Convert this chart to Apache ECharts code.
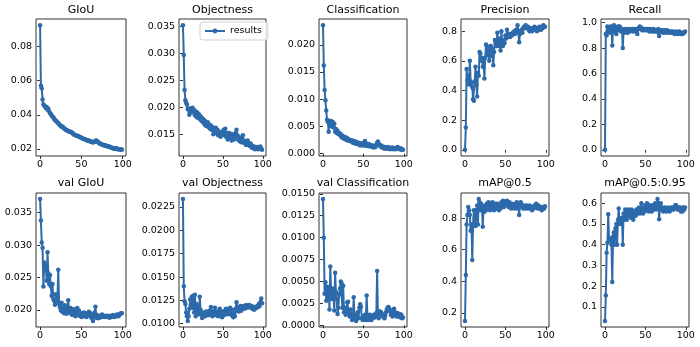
<!DOCTYPE html>
<html><head><meta charset="utf-8">
<script src="https://cdn.jsdelivr.net/npm/echarts@6/dist/echarts.min.js"></script>
<style>html,body{margin:0;padding:0;background:#fff}#c{width:700px;height:347px}</style>
</head><body><div id="c"></div>
<script>
const titles = ['GIoU','Objectness','Classification','Precision','Recall','val GIoU','val Objectness','val Classification','mAP@0.5','mAP@0.5:0.95'];
const xTicks = ['0','50','100'];

const giou = [0.0925,0.0570,0.0555,0.0490,0.0460,0.0455,0.0450,0.0440,0.0445,0.0430,
0.0435,0.0420,0.0410,0.0405,0.0395,0.0390,0.0385,0.0375,0.0370,0.0365,
0.0360,0.0355,0.0350,0.0345,0.0340,0.0335,0.0330,0.0332,0.0325,0.0320,
0.0318,0.0312,0.0310,0.0308,0.0305,0.0302,0.0300,0.0300,0.0298,0.0292,
0.0290,0.0285,0.0282,0.0280,0.0278,0.0275,0.0276,0.0272,0.0270,0.0268,
0.0265,0.0262,0.0260,0.0258,0.0256,0.0255,0.0252,0.0250,0.0251,0.0248,
0.0245,0.0244,0.0243,0.0240,0.0238,0.0240,0.0242,0.0248,0.0250,0.0245,
0.0240,0.0236,0.0232,0.0230,0.0228,0.0226,0.0224,0.0222,0.0220,0.0222,
0.0218,0.0216,0.0214,0.0215,0.0212,0.0210,0.0208,0.0206,0.0205,0.0202,
0.0200,0.0203,0.0205,0.0200,0.0198,0.0200,0.0197,0.0196,0.0198,0.0195];
const giouTicks = ['0.02','0.04','0.06','0.08'];

const objectness = [0.0352,0.0297,0.0232,0.0213,0.0208,0.0205,0.0196,0.0197,0.0186,0.0190,
0.0198,0.0193,0.0199,0.0190,0.0195,0.0185,0.0192,0.0182,0.0190,0.0180,
0.0187,0.0178,0.0183,0.0175,0.0180,0.0172,0.0177,0.0168,0.0174,0.0165,
0.0170,0.0172,0.0163,0.0168,0.0160,0.0166,0.0158,0.0163,0.0150,0.0160,
0.0155,0.0162,0.0152,0.0158,0.0148,0.0155,0.0150,0.0145,0.0152,0.0148,
0.0155,0.0158,0.0150,0.0160,0.0145,0.0152,0.0140,0.0148,0.0152,0.0143,
0.0150,0.0138,0.0145,0.0150,0.0140,0.0146,0.0152,0.0158,0.0148,0.0140,
0.0145,0.0137,0.0142,0.0135,0.0140,0.0148,0.0138,0.0133,0.0137,0.0130,
0.0134,0.0138,0.0130,0.0133,0.0128,0.0132,0.0125,0.0128,0.0124,0.0127,
0.0122,0.0125,0.0123,0.0126,0.0122,0.0125,0.0124,0.0127,0.0123,0.0121];
const objectnessTicks = ['0.015','0.020','0.025','0.030','0.035'];

const classification = [0.0236,0.0162,0.0117,0.0098,0.0079,0.0062,0.0058,0.0040,0.0060,0.0055,
0.0060,0.0050,0.0058,0.0048,0.0055,0.0040,0.0045,0.0038,0.0042,0.0036,
0.0038,0.0034,0.0036,0.0030,0.0033,0.0028,0.0031,0.0027,0.0030,0.0025,
0.0028,0.0024,0.0026,0.0023,0.0025,0.0022,0.0024,0.0020,0.0023,0.0019,
0.0022,0.0018,0.0021,0.0017,0.0020,0.0018,0.0015,0.0019,0.0016,0.0018,
0.0015,0.0020,0.0023,0.0016,0.0014,0.0018,0.0015,0.0017,0.0013,0.0016,
0.0014,0.0012,0.0015,0.0011,0.0013,0.0012,0.0016,0.0020,0.0022,0.0018,
0.0016,0.0013,0.0015,0.0011,0.0013,0.0010,0.0012,0.0009,0.0011,0.0010,
0.0012,0.0009,0.0011,0.0008,0.0010,0.0009,0.0011,0.0008,0.0010,0.0009,
0.0008,0.0010,0.0012,0.0011,0.0009,0.0008,0.0010,0.0007,0.0008,0.0007];
const classificationTicks = ['0.000','0.005','0.010','0.015','0.020'];

const precision = [0.00,0.15,0.545,0.47,0.50,0.44,0.60,0.46,0.45,0.42,
0.34,0.33,0.46,0.56,0.44,0.36,0.52,0.50,0.66,0.65,
0.60,0.62,0.56,0.60,0.48,0.62,0.71,0.70,0.64,0.68,
0.60,0.65,0.70,0.63,0.68,0.57,0.66,0.74,0.72,0.70,
0.79,0.72,0.75,0.70,0.67,0.80,0.74,0.70,0.73,0.72,
0.77,0.75,0.81,0.76,0.77,0.78,0.76,0.78,0.77,0.79,
0.78,0.80,0.78,0.81,0.79,0.84,0.80,0.725,0.78,0.80,
0.81,0.79,0.82,0.83,0.82,0.84,0.83,0.82,0.83,0.81,
0.80,0.82,0.81,0.80,0.82,0.81,0.83,0.81,0.82,0.80,
0.82,0.81,0.83,0.82,0.81,0.83,0.82,0.84,0.83,0.83];
const precisionTicks = ['0.0','0.2','0.4','0.6','0.8'];

const recall = [0.00,0.91,0.90,0.97,0.93,0.96,0.92,0.97,0.95,0.82,
0.97,0.98,0.93,0.96,0.91,0.95,0.97,0.94,0.97,0.96,
0.93,0.95,0.80,0.94,0.92,0.95,0.93,0.94,0.92,0.95,
0.94,0.93,0.95,0.94,0.95,0.93,0.95,0.94,0.95,0.93,
0.91,0.95,0.96,0.97,0.95,0.96,0.94,0.95,0.94,0.95,
0.94,0.95,0.94,0.95,0.94,0.93,0.95,0.94,0.93,0.94,
0.95,0.93,0.94,0.93,0.94,0.93,0.95,0.895,0.93,0.94,
0.93,0.94,0.92,0.93,0.94,0.92,0.93,0.94,0.93,0.92,
0.93,0.92,0.93,0.92,0.93,0.92,0.91,0.92,0.93,0.92,
0.91,0.92,0.93,0.92,0.91,0.92,0.91,0.92,0.92,0.93];
const recallTicks = ['0.0','0.2','0.4','0.6','0.8','1.0'];

const valGiou = [0.0371,0.0338,0.0304,0.0296,0.0236,0.0273,0.0268,0.0262,0.0245,0.0289,
0.0256,0.0240,0.0254,0.0236,0.0222,0.0240,0.0217,0.0214,0.0208,0.0224,
0.0213,0.0220,0.0262,0.0209,0.0204,0.0199,0.0211,0.0197,0.0203,0.0195,
0.0207,0.0199,0.0194,0.0204,0.0215,0.0200,0.0196,0.0203,0.0193,0.0198,
0.0192,0.0201,0.0196,0.0190,0.0197,0.0203,0.0194,0.0199,0.0191,0.0195,
0.0189,0.0194,0.0190,0.0196,0.0191,0.0195,0.0189,0.0194,0.0192,0.0197,
0.0191,0.0195,0.0188,0.0193,0.0183,0.0190,0.0196,0.0205,0.0188,0.0192,
0.0187,0.0190,0.0188,0.0191,0.0189,0.0193,0.0190,0.0191,0.0189,0.0190,
0.0191,0.0189,0.0190,0.0191,0.0188,0.0190,0.0189,0.0191,0.0192,0.0190,
0.0189,0.0191,0.0190,0.0193,0.0191,0.0190,0.0193,0.0194,0.0195,0.0195];
const valGiouTicks = ['0.020','0.025','0.030','0.035'];

const valObjectness = [0.02335,0.0140,0.0124,0.0121,0.0112,0.0108,0.0103,0.0108,0.0116,0.0126,
0.0119,0.0129,0.0117,0.0130,0.0112,0.0131,0.0108,0.0121,0.0113,0.0118,
0.0110,0.0129,0.0115,0.0110,0.0106,0.0112,0.0109,0.0111,0.0108,0.0113,
0.0110,0.0112,0.0109,0.0114,0.0110,0.0118,0.0111,0.0108,0.0113,0.0110,
0.0117,0.0112,0.0109,0.0113,0.0108,0.0112,0.0116,0.0110,0.0113,0.0107,
0.0111,0.0109,0.0114,0.0110,0.0116,0.0112,0.0110,0.0114,0.0111,0.0117,
0.0112,0.0109,0.0115,0.0107,0.0111,0.0108,0.0116,0.0123,0.0114,0.0118,
0.0113,0.0116,0.0119,0.0114,0.0118,0.0117,0.0119,0.0116,0.0118,0.0120,
0.0117,0.0119,0.0118,0.0120,0.0118,0.0117,0.0119,0.0116,0.0118,0.0115,
0.0116,0.0118,0.0117,0.0119,0.0118,0.0121,0.0119,0.0123,0.0127,0.0122];
const valObjectnessTicks = ['0.0100','0.0125','0.0150','0.0175','0.0200','0.0225'];

const valClassification = [0.0144,0.0100,0.0036,0.0049,0.0028,0.0044,0.0030,0.0042,0.0018,0.0067,
0.0040,0.0030,0.0042,0.0032,0.0017,0.0060,0.0038,0.0030,0.0013,0.0020,
0.0035,0.0042,0.0050,0.0048,0.0020,0.0045,0.0015,0.0020,0.0012,0.0018,
0.0026,0.0027,0.0014,0.0010,0.0018,0.0012,0.0006,0.0010,0.0032,0.0008,
0.0012,0.0005,0.0010,0.0015,0.0008,0.0020,0.0024,0.0021,0.0008,0.0006,
0.0010,0.0007,0.0012,0.0006,0.0034,0.0010,0.0006,0.0008,0.0012,0.0008,
0.0006,0.0008,0.0010,0.0012,0.0009,0.0011,0.0014,0.0062,0.0010,0.0008,
0.0016,0.0014,0.0015,0.0012,0.0010,0.0012,0.0008,0.0011,0.0015,0.0018,
0.0020,0.0021,0.0019,0.0016,0.0012,0.0015,0.0010,0.0018,0.0019,0.0015,
0.0012,0.0010,0.0014,0.0012,0.0010,0.0013,0.0009,0.0012,0.0008,0.0009];
const valClassificationTicks = ['0.0000','0.0025','0.0050','0.0075','0.0100','0.0125','0.0150'];

const map50 = [0.15,0.44,0.76,0.82,0.87,0.85,0.82,0.72,0.76,0.535,
0.76,0.85,0.80,0.75,0.85,0.88,0.76,0.92,0.90,0.85,
0.89,0.86,0.745,0.87,0.84,0.88,0.85,0.89,0.86,0.90,
0.87,0.85,0.89,0.86,0.90,0.88,0.85,0.89,0.87,0.86,
0.89,0.87,0.85,0.88,0.86,0.90,0.88,0.91,0.87,0.89,
0.88,0.90,0.91,0.89,0.87,0.90,0.88,0.86,0.89,0.87,
0.88,0.86,0.89,0.87,0.90,0.86,0.89,0.82,0.88,0.90,
0.87,0.88,0.86,0.88,0.87,0.86,0.88,0.87,0.86,0.87,
0.88,0.86,0.87,0.85,0.87,0.86,0.88,0.87,0.89,0.87,
0.86,0.88,0.87,0.86,0.87,0.85,0.86,0.87,0.86,0.875];
const map50Ticks = ['0.2','0.4','0.6','0.8'];

const map5095 = [0.033,0.156,0.362,0.41,0.547,0.43,0.42,0.43,0.40,0.221,
0.44,0.46,0.40,0.48,0.50,0.40,0.52,0.575,0.50,0.52,
0.50,0.53,0.40,0.55,0.52,0.57,0.54,0.52,0.56,0.57,
0.54,0.56,0.53,0.57,0.55,0.52,0.55,0.56,0.54,0.57,
0.55,0.56,0.58,0.55,0.57,0.60,0.57,0.55,0.58,0.56,
0.59,0.57,0.60,0.58,0.56,0.59,0.57,0.58,0.56,0.59,
0.57,0.58,0.60,0.57,0.59,0.62,0.60,0.523,0.58,0.60,
0.57,0.58,0.56,0.57,0.58,0.57,0.56,0.57,0.58,0.57,
0.56,0.57,0.58,0.57,0.58,0.57,0.58,0.59,0.59,0.58,
0.57,0.58,0.57,0.58,0.56,0.57,0.56,0.58,0.57,0.58];
const map5095Ticks = ['0.1','0.2','0.3','0.4','0.5','0.6'];

const seriesList = [giou, objectness, classification, precision, recall, valGiou, valObjectness, valClassification, map50, map5095];
const tickList = [giouTicks, objectnessTicks, classificationTicks, precisionTicks, recallTicks, valGiouTicks, valObjectnessTicks, valClassificationTicks, map50Ticks, map5095Ticks];

// layout
const colLeft = [36, 179, 319, 461, 601];
const colWidth = [90, 87, 88, 88, 88];
const rowTop = [19, 193];
const rowHeight = [137, 134];
const titleTop = [5, 178];
const color = '#2c6aab';
const font = 'DejaVu Sans';

const grids = [], xAxes = [], yAxes = [], series = [], titleList = [];
seriesList.forEach((vals, i) => {
  const r = Math.floor(i / 5), c = i % 5;
  grids.push({left: colLeft[c], top: rowTop[r], width: colWidth[c], height: rowHeight[r],
    show: true, borderColor: '#000', borderWidth: 0.8, backgroundColor: '#fff', containLabel: false});
  const n = vals.length;
  const xr = n - 1;
  xAxes.push({type: 'value', gridIndex: i, min: -0.05 * xr, max: xr + 0.05 * xr,
    splitLine: {show: false}, axisLine: {show: false},
    axisTick: {show: true, inside: false, length: 3, lineStyle: {color: '#000', width: 0.8}, customValues: xTicks.map(Number)},
    axisLabel: {show: true, color: '#000', fontSize: 9.5, fontFamily: font, margin: 4, customValues: xTicks.map(Number),
      formatter: v => String(Math.round(v))}});
  let mn = Math.min(...vals), mx = Math.max(...vals);
  const pad = 0.05 * (mx - mn);
  const ticks = tickList[i];
  const dec = (ticks[0].split('.')[1] || '').length;
  yAxes.push({type: 'value', gridIndex: i, min: mn - pad, max: mx + pad,
    splitLine: {show: false}, axisLine: {show: false},
    axisTick: {show: true, inside: false, length: 3, lineStyle: {color: '#000', width: 0.8}, customValues: ticks.map(Number)},
    axisLabel: {show: true, color: '#000', fontSize: 9.5, fontFamily: font, margin: 4, customValues: ticks.map(Number),
      formatter: v => v.toFixed(dec)}});
  series.push({type: 'line', name: 'results', xAxisIndex: i, yAxisIndex: i,
    data: vals.map((v, k) => [k, v]), symbol: 'circle', symbolSize: 4.5, showSymbol: true,
    lineStyle: {color: color, width: 2}, itemStyle: {color: color, borderWidth: 0},
    emphasis: {disabled: true}, z: 3});
  titleList.push({text: titles[i], left: colLeft[c] + colWidth[c] / 2, top: titleTop[r], textAlign: 'center', padding: 0,
    textStyle: {fontSize: 11, fontWeight: 'normal', color: '#000', fontFamily: font}});
});

const chart = echarts.init(document.getElementById('c'), null, {renderer: 'canvas'});
chart.setOption({
  animation: false,
  backgroundColor: '#fff',
  title: titleList,
  grid: grids,
  xAxis: xAxes,
  yAxis: yAxes,
  legend: {data: ['results'], left: 200, top: 22, orient: 'vertical', borderColor: '#d0d0d0', borderWidth: 1, borderRadius: 3,
    padding: [4, 6, 4, 4], backgroundColor: 'rgba(255,255,255,0.8)', itemWidth: 20, itemHeight: 6, itemGap: 4,
    textStyle: {fontSize: 9.5, fontFamily: font, color: '#000'}, selectedMode: false},
  series: series
});
</script></body></html>
